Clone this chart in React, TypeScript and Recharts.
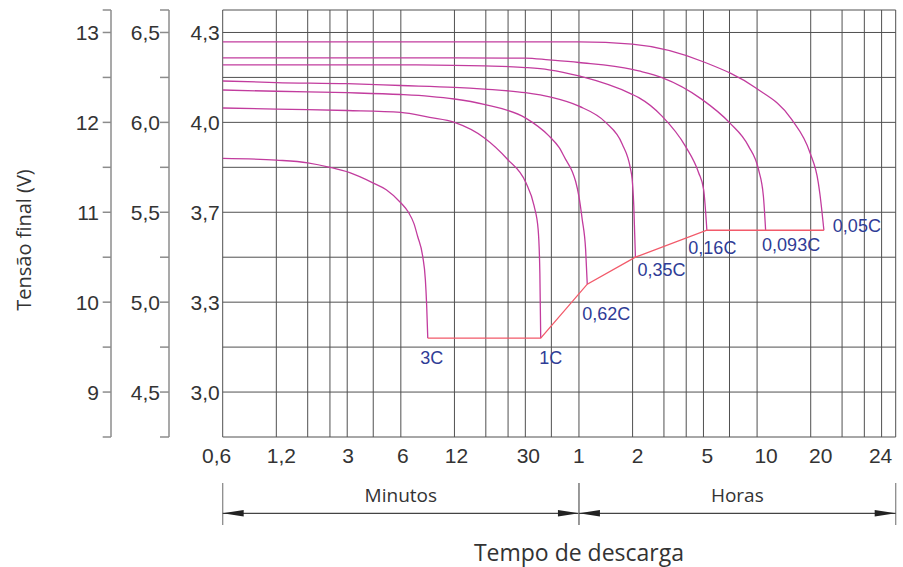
import React from "react";
import {
  LineChart,
  Line,
  XAxis,
  YAxis,
  CartesianGrid,
  ReferenceArea,
  LabelList,
} from "recharts";

const FONT = "'Liberation Sans', Arial, sans-serif";
const TITLE_FONT = "'Open Sans', sans-serif";

// tempo em minutos (eixo logarítmico)
const GRID_TIMES = [
  0.6, 1.2, 1.8, 2.4, 3, 4.2, 6, 12, 18, 24, 30, 42, 60, 120, 180, 240, 300,
  420, 600, 1200, 1800, 2400, 3000, 3600,
];
const TIME_TICKS = [0.6, 1.2, 3, 6, 12, 30, 60, 120, 300, 600, 1200, 3000];
const TIME_LABELS = ["0,6", "1,2", "3", "6", "12", "30", "1", "2", "5", "10", "20", "24"];
const TIME_LABEL_DX = [-6, 5, 1, 2, 2, 3, 0, 5, 4, 9, 10, -1];

// tensão na escala de 12 V
const VOLT_GRID = [8.5, 9, 9.5, 10, 10.5, 11, 11.5, 12, 12.5, 13, 13.25];
const VOLT_TICKS = [13, 12, 11, 10, 9];
const LABELS_12V = ["13", "12", "11", "10", "9"];
const LABELS_6V = ["6,5", "6,0", "5,5", "5,0", "4,5"];
const LABELS_4V = ["4,3", "4,0", "3,7", "3,3", "3,0"];

const RATES = ["3C", "1C", "0,62C", "0,35C", "0,16C", "0,093C", "0,05C"];

// [minutos, volts]
const CURVE_3C = [
  [0.6, 11.6], [1.2, 11.58], [1.8, 11.55], [2.4, 11.5], [3.1, 11.44],
  [4.15, 11.33], [4.97, 11.25], [6.03, 11.1], [6.62, 11.0], [7.11, 10.874],
  [7.46, 10.73], [7.96, 10.51], [8.24, 10.25], [8.38, 9.96],
];
const CURVE_1C = [
  [0.6, 12.16], [1.2, 12.147], [3, 12.132], [6, 12.112], [8.7, 12.055],
  [12, 12.0], [17.6, 11.83], [23.8, 11.59], [30.2, 11.33], [33.6, 11.07],
  [35.4, 10.81], [36.2, 10.32],
];
const CURVE_062C = [
  [0.6, 12.36], [1.2, 12.346], [3, 12.33], [6, 12.31], [8.7, 12.29],
  [12, 12.26], [17.6, 12.2], [30, 12.05], [40.7, 11.85], [46.4, 11.721],
  [50.5, 11.588], [55, 11.454], [57.5, 11.342], [60, 11.175], [62.6, 10.919],
  [65.4, 10.584],
];
const CURVE_035C = [
  [0.6, 12.46], [1.2, 12.443], [3, 12.43], [6, 12.41], [12, 12.39],
  [17.6, 12.37], [30, 12.33], [41.7, 12.28], [60, 12.18], [84.7, 12.0],
  [104.9, 11.76], [116.9, 11.48], [119.3, 11.37], [121.9, 11.07],
];
const CURVE_016C = [
  [0.6, 12.64], [6, 12.64], [12, 12.635], [17.6, 12.628], [30, 12.61],
  [40.7, 12.585], [60, 12.516], [119.3, 12.312], [130, 12.275], [175.5, 12.07],
  [237.4, 11.736], [281.8, 11.44], [300.6, 11.253],
];
const CURVE_0093C = [
  [0.6, 12.717], [12, 12.717], [30, 12.715], [40.7, 12.695], [60, 12.666],
  [119.3, 12.59], [130, 12.572], [175.5, 12.498], [294, 12.256], [420, 11.997],
  [537, 11.736], [611, 11.476], [651, 11.178],
];
const CURVE_005C = [
  [0.6, 12.895], [60, 12.895], [119.3, 12.87], [307, 12.666], [585, 12.387],
  [938, 12.033], [1189, 11.662], [1324, 11.328], [1352, 11.2],
];
const CURVES = [CURVE_3C, CURVE_1C, CURVE_062C, CURVE_035C, CURVE_016C, CURVE_0093C, CURVE_005C];

// tensão final de corte para cada taxa
const CUTOFF_TIME = [8.5, 36.6, 66.8, 124.5, 313.5, 670, 1423];
const CUTOFF_VOLT = [9.6, 9.6, 10.2, 10.5, 10.8, 10.8, 10.8];

// deslocamento dos rótulos em relação ao ponto de corte
const RATE_LABEL_OFFSET = [
  [4, 20], [10, 20], [19, 30], [26, 12.5], [5.5, 17.6], [25.5, 14.3], [33, -4.7],
];

const series = CURVES.map((c, i) =>
  [...c, [CUTOFF_TIME[i], CUTOFF_VOLT[i]]].map(([t, v]) => ({ t, v }))
);
const cutoff = CUTOFF_TIME.map((t, i) => ({ t, v: CUTOFF_VOLT[i], rate: RATES[i] }));

const fmt = (labels: string[]) => (v: number) => {
  const i = VOLT_TICKS.indexOf(v);
  return i < 0 ? "" : labels[i];
};

const TimeTick = (props: any) => {
  const { x, y, payload } = props;
  const i = TIME_TICKS.indexOf(payload.value);
  if (i < 0) return <g />;
  return (
    <text x={x + TIME_LABEL_DX[i]} y={y + 26} textAnchor="middle" fontSize={21} fontFamily={FONT} fill="#333">
      {TIME_LABELS[i]}
    </text>
  );
};

const RateLabel = (props: any) => {
  const { x, y, index, value } = props;
  const [dx, dy] = RATE_LABEL_OFFSET[index];
  return (
    <text x={x + dx} y={y + dy} textAnchor="middle" dominantBaseline="central" fontSize={18} fontFamily={FONT} fill="#2f3c96">
      {value}
    </text>
  );
};

const SpanArrow = (props: any) => {
  const { x, y, width, height, text, title } = props;
  const b = y + height;
  const x2 = x + width;
  const ay = b + 76.3;
  return (
    <g>
      <line x1={x} x2={x} y1={b + 46} y2={b + 88} stroke="#8c8c8c" strokeWidth={1.3} />
      <line x1={x2} x2={x2} y1={b + 46} y2={b + 88} stroke="#8c8c8c" strokeWidth={1.3} />
      <line x1={x} x2={x2} y1={ay} y2={ay} stroke="#444" strokeWidth={1.2} />
      <polygon points={`${x},${ay} ${x + 21},${ay - 3.3} ${x + 21},${ay + 3.3}`} fill="#222" />
      <polygon points={`${x2},${ay} ${x2 - 21},${ay - 3.3} ${x2 - 21},${ay + 3.3}`} fill="#222" />
      <text x={x + width / 2} y={b + 65} textAnchor="middle" fontSize={19} fontFamily={TITLE_FONT} fill="#333">
        {text}
      </text>
      {title && (
        <text x={x} y={b + 124} textAnchor="middle" fontSize={23} fontFamily={TITLE_FONT} fill="#333">
          {title}
        </text>
      )}
    </g>
  );
};

const YTitle = (props: any) => {
  const { viewBox } = props;
  const cx = viewBox.x - 17;
  const cy = viewBox.y + viewBox.height / 2 + 16.5;
  return (
    <text x={cx} y={cy} transform={`rotate(-90 ${cx} ${cy})`} textAnchor="middle" dominantBaseline="central" fontSize={20} fontFamily={TITLE_FONT} fill="#333">
      Tensão final (V)
    </text>
  );
};

export default function App() {
  const tickStyle = { fill: "#333", fontSize: 21, fontFamily: FONT };
  const outerAxis = { stroke: "#8c8c8c", strokeWidth: 1.5 };
  return (
    <div style={{ position: "absolute", left: 0, top: 0 }}>
      <LineChart width={903} height={567} margin={{ top: 10, right: 7.3, left: 40, bottom: 90 }}>
        <CartesianGrid yAxisId="a4" stroke="#505050" strokeWidth={1} />
        <XAxis
          dataKey="t"
          type="number"
          scale="log"
          domain={[0.6, 3600]}
          ticks={GRID_TIMES}
          interval={0}
          allowDataOverflow
          axisLine={false}
          tickLine={false}
          tickSize={0}
          tickMargin={0}
          height={40}
          tick={<TimeTick />}
        />
        <YAxis
          yAxisId="a4"
          type="number"
          domain={[8.5, 13.25]}
          allowDataOverflow
          ticks={VOLT_GRID}
          interval={0}
          width={53.7}
          axisLine={false}
          tickLine={false}
          tickSize={0}
          tickMargin={3}
          tick={tickStyle}
          tickFormatter={fmt(LABELS_4V)}
        />
        <YAxis
          yAxisId="b6"
          type="number"
          domain={[8.5, 13.25]}
          allowDataOverflow
          ticks={VOLT_GRID}
          interval={0}
          width={58}
          axisLine={outerAxis}
          tickLine={outerAxis}
          tickSize={9}
          tickMargin={0}
          tick={tickStyle}
          tickFormatter={fmt(LABELS_6V)}
        />
        <YAxis
          yAxisId="c12"
          type="number"
          domain={[8.5, 13.25]}
          allowDataOverflow
          ticks={VOLT_GRID}
          interval={0}
          width={71}
          axisLine={outerAxis}
          tickLine={outerAxis}
          tickSize={8.3}
          tickMargin={3.7}
          tick={tickStyle}
          tickFormatter={fmt(LABELS_12V)}
          label={{ content: <YTitle /> }}
        />
        {series.map((d, i) => (
          <Line
            key={RATES[i]}
            yAxisId="a4"
            data={d}
            dataKey="v"
            type="monotone"
            stroke="#c23c9e"
            strokeWidth={1.3}
            dot={false}
            activeDot={false}
            isAnimationActive={false}
          />
        ))}
        <Line
          yAxisId="a4"
          data={cutoff}
          dataKey="v"
          type="linear"
          stroke="#f25a6a"
          strokeWidth={1.3}
          dot={false}
          activeDot={false}
          isAnimationActive={false}
        >
          <LabelList dataKey="rate" content={<RateLabel />} />
        </Line>
        <ReferenceArea
          yAxisId="a4"
          x1={0.6}
          x2={60}
          ifOverflow="visible"
          shape={(p: any) => <SpanArrow {...p} text="Minutos" />}
        />
        <ReferenceArea
          yAxisId="a4"
          x1={60}
          x2={3600}
          ifOverflow="visible"
          shape={(p: any) => <SpanArrow {...p} text="Horas" title="Tempo de descarga" />}
        />
      </LineChart>
    </div>
  );
}
